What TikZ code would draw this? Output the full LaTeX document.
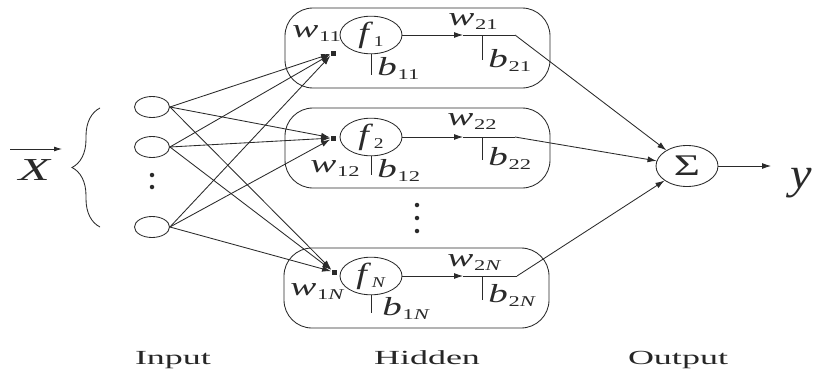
\documentclass[tikz,border=0pt]{standalone}
\usepackage{fontspec}
\setmainfont{Liberation Serif}
\usetikzlibrary{arrows.meta,shapes.geometric,decorations.pathreplacing}
\newcommand\sx[2][1.5]{\scalebox{#1}[1]{#2}}
\newcommand\vl[2]{\textit{#1}\kern0.5pt\raisebox{-4pt}{\fontsize{15}{15}\selectfont #2}}
\definecolor{ln}{HTML}{2A2A2A}
\begin{document}
\begin{tikzpicture}[x=1pt,y=-1pt, line width=0.85pt, ln,
  hbox/.style={draw, rounded corners=28pt, minimum width=265pt, minimum height=80pt, inner sep=0pt},
  neur/.style={draw, ellipse, minimum width=62pt, minimum height=37pt, inner sep=0pt, font=\fontsize{29}{29}\selectfont},
  innode/.style={draw, ellipse, minimum width=35pt, minimum height=21pt, inner sep=0pt},
  con/.style={-{Latex[length=9pt,width=6pt]}},
  lab/.style={inner sep=0pt, anchor=base west, font=\fontsize{26}{26}\selectfont},
  captxt/.style={inner sep=0pt, anchor=base, font=\fontsize{20}{20}\selectfont, text=black!85},
  dot/.style={circle, fill, inner sep=0pt, minimum size=4.5pt},
  pin/.style={rectangle, fill, inner sep=0pt, minimum size=5pt},
]
\fill[white] (0,0) rectangle (819,372);
\useasboundingbox (0,0) rectangle (819,372);

% hidden boxes
\node[hbox] (h1) at (417.5,48) {};
\node[hbox] (h2) at (417.5,148) {};
\node[hbox] (h3) at (416.5,288) {};

% inputs
\node[innode] (i1) at (152,107) {};
\node[innode] (i2) at (152,147) {};
\node[innode] (i3) at (152,227) {};
\node[dot] (d1) at (152,175) {};
\node[dot] (d2) at (152,187) {};

% brace and X
\coordinate (br1) at (100,227);
\coordinate (br2) at (100,108);
\draw[decorate, decoration={brace, amplitude=28pt, aspect=0.5}] (br1) -- (br2);
\coordinate (xa) at (10,149);
\coordinate (xb) at (62,149);
\draw[-{Latex[length=8pt,width=5pt]}] (xa) -- (xb);
\node[inner sep=0pt, anchor=base, font=\fontsize{32}{32}\selectfont] (X) at (35,180) {\sx[1.6]{\textit{X}}};

% neurons
\node[neur] (f1) at (371,35) {\sx[1.3]{\vl{f}{1}}};
\node[neur] (f2) at (371,137) {\sx[1.3]{\vl{f}{2}}};
\node[neur] (f3) at (371,276) {\sx[1.3]{\vl{f}{\textit{N}}}};

% input points
\node[pin] (p1) at (333,53) {};
\node[pin] (p2) at (333,138) {};
\node[pin] (p3) at (334,272) {};

\foreach \i in {1,2,3} {
  \foreach \j in {1,2,3} {
    \draw[con] (i\i.east) -- (p\j);
  }
}

% output sum
\node[draw, ellipse, minimum width=62pt, minimum height=41pt, inner sep=0pt, font=\fontsize{30}{30}\selectfont] (sum) at (687,166) {\sx{Σ}};

\coordinate (a1) at (463,35);  \coordinate (m1) at (515,35);  \coordinate (c1) at (482,35);  \coordinate (e1) at (482,60);
\coordinate (a2) at (463,137); \coordinate (m2) at (515,137); \coordinate (c2) at (482,137); \coordinate (e2) at (482,160);
\coordinate (a3) at (463,276); \coordinate (m3) at (517,276); \coordinate (c3) at (482,276); \coordinate (e3) at (482,300);
\coordinate (g1) at (371,75);
\coordinate (g2) at (371,175);
\coordinate (g3) at (371,313);

\foreach \k in {1,2,3} {
  \draw[con] (f\k) -- (a\k);
  \draw (a\k) -- (m\k);
  \draw[con] (m\k) -- (sum);
  \draw (c\k) -- (e\k);
  \draw (f\k.south) -- (g\k);
}

\coordinate (ya) at (771,166);
\draw[con] (sum) -- (ya);
\node[inner sep=0pt, anchor=base, font=\fontsize{44}{44}\selectfont] (y) at (801,188) {\sx[1.1]{\textit{y}}};

% weight and bias labels
\node[lab] (w11) at (292,37) {\sx{\vl{w}{11}}};
\node[lab] (w21) at (448,25) {\sx{\vl{w}{21}}};
\node[lab] (w12) at (310,172) {\sx{\vl{w}{12}}};
\node[lab] (w22) at (447,125) {\sx{\vl{w}{22}}};
\node[lab] (w1N) at (290,295) {\sx{\vl{w}{1\textit{N}}}};
\node[lab] (w2N) at (447,266) {\sx{\vl{w}{2\textit{N}}}};
\node[lab] (b11) at (377,75) {\sx{\vl{b}{11}}};
\node[lab] (b21) at (488,67) {\sx{\vl{b}{21}}};
\node[lab] (b12) at (377,177) {\sx{\vl{b}{12}}};
\node[lab] (b22) at (488,165) {\sx{\vl{b}{22}}};
\node[lab] (b1N) at (382,315) {\sx{\vl{b}{1\textit{N}}}};
\node[lab] (b2N) at (488,302) {\sx{\vl{b}{2\textit{N}}}};

% vertical dots
\node[dot] (v1) at (417,205) {};
\node[dot] (v2) at (417,218) {};
\node[dot] (v3) at (417,231) {};

% captions
\node[captxt] (cin) at (173,364) {\sx[1.8]{Input}};
\node[captxt] (chid) at (427,364) {\sx[1.8]{Hidden}};
\node[captxt] (cout) at (678,364) {\sx[1.8]{Output}};
\end{tikzpicture}
\end{document}
